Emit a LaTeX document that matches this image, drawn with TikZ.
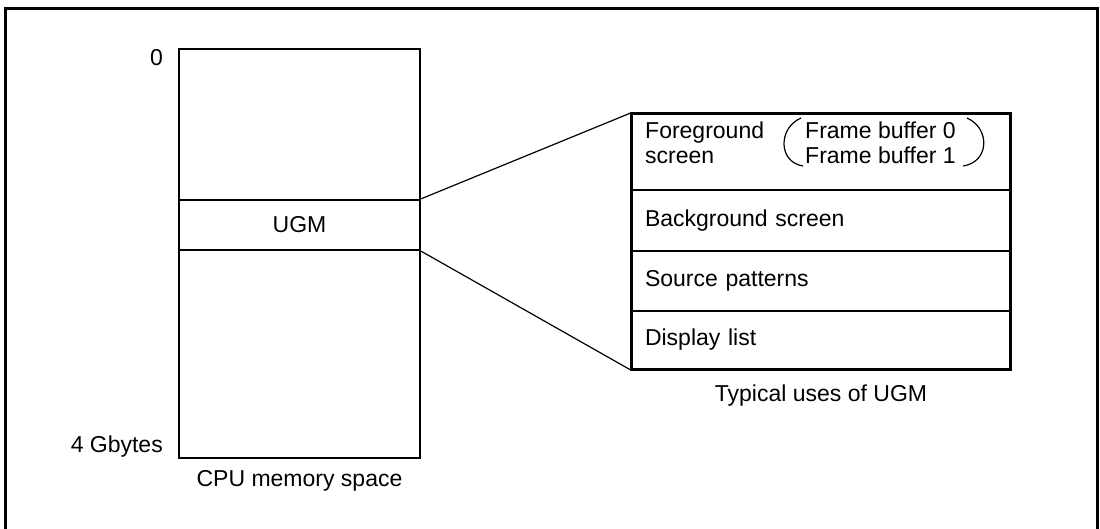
\documentclass[tikz,border=0pt]{standalone}
\usepackage{fontspec}
\setmainfont{Liberation Sans}
\begin{document}
\begin{tikzpicture}[x=1pt,y=-1pt,
  txt/.style={inner sep=0pt, font=\fontsize{23}{25}\selectfont},
  memblock/.style={draw, line width=2.5pt, inner sep=0pt, minimum width=241pt},
  rowbox/.style={draw, line width=2.2pt, inner sep=0pt, minimum width=378pt, text width=352pt, inner xsep=13pt, align=left, font=\fontsize{23}{25}\selectfont},
  conn/.style={line width=1.2pt},
  paren/.style={line width=1.2pt}]
\useasboundingbox (0,0) rectangle (1100,528);
% outer frame (open at bottom)
\draw[line width=3pt] (5,530) -- (5,8) -- (1097,8) -- (1097,530);
% CPU memory space
\node[memblock, minimum height=409pt] (cpu) at (299.5,253.5) {};
\node[memblock, minimum height=50pt] (ugm) at (299.5,225) {};
\node[txt] at (ugm.center) {UGM};
\node[txt, anchor=east] (zero) at (163,58) {0};
\node[txt, anchor=east] (four) at (163,447) {4 Gbytes};
\node[txt] (cpucap) at (299.5,481) {CPU memory space};
% UGM uses
\node[rowbox, minimum height=76pt] (fg) at (821,152) {};
\node[rowbox, minimum height=61pt] (bg) at (821,220.5) {Background screen};
\node[rowbox, minimum height=60pt] (src) at (821,281) {Source patterns};
\node[rowbox, minimum height=58pt] (disp) at (821,340) {Display list};
\draw[line width=2.5pt] (fg.north west) rectangle (disp.south east);
\node[txt, anchor=west, align=left] (fgtxt) at (645,143) {Foreground\\screen};
\node[txt, anchor=west, align=left] (fbtxt) at (805,143) {Frame buffer 0\\Frame buffer 1};
\draw[paren] (801,118) .. controls (778,128) and (778,162) .. (803,166);
\draw[paren] (967,118) .. controls (990,128) and (990,162) .. (963,166);
\node[txt] (ugmcap) at (821,396) {Typical uses of UGM};
% connectors
\draw[conn] (ugm.north east) -- (fg.north west);
\draw[conn] (ugm.south east) -- (disp.south west);
\end{tikzpicture}
\end{document}
